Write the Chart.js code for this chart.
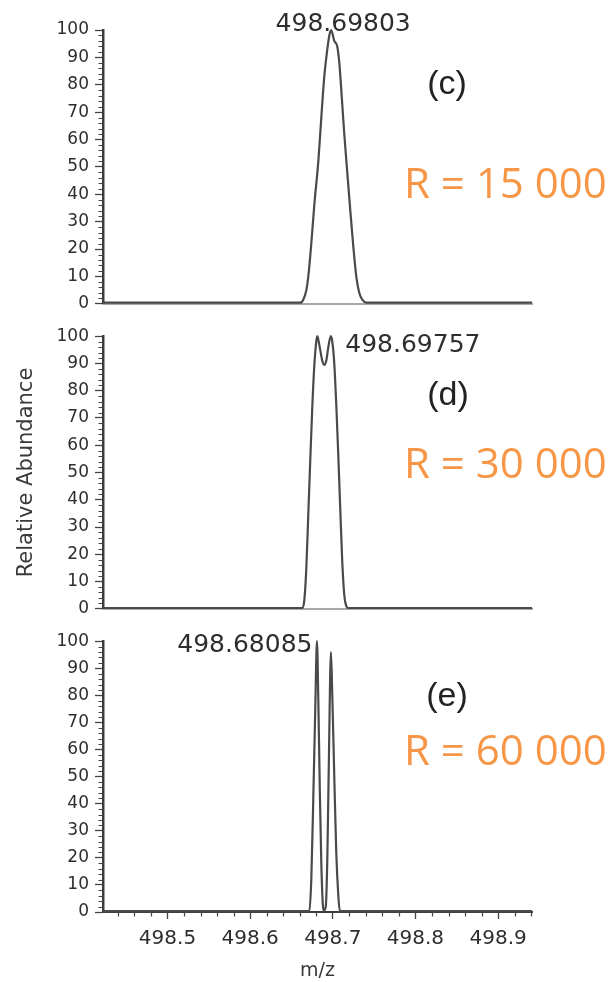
<!DOCTYPE html>
<html>
<head>
<meta charset="utf-8">
<script src="https://cdn.jsdelivr.net/npm/chart.js@4/dist/chart.umd.min.js"></script>
<style>
  html, body { margin: 0; padding: 0; background: #fff; }
  body { width: 616px; height: 982px; position: relative; overflow: hidden; }
  canvas { position: absolute; left: 0; }
</style>
</head>
<body>
<canvas id="panelC" width="616" height="320" style="top:0px"></canvas>
<canvas id="panelD" width="616" height="305" style="top:320px"></canvas>
<canvas id="panelE" width="616" height="357" style="top:625px"></canvas>
<script>
// Shared m/z window and tick values
const mzRange = [498.422, 498.941];
const mzTickLabels = [498.5, 498.6, 498.7, 498.8, 498.9];
const abundanceTicks = [0, 10, 20, 30, 40, 50, 60, 70, 80, 90, 100];

// (c) R = 15 000 : single unresolved peak
const mzC = [498.422, 498.6607, 498.6643, 498.6680, 498.6704, 498.6740, 498.6776, 498.6825,
  498.6861, 498.6897, 498.6934, 498.6958, 498.69803, 498.7018, 498.7054, 498.7079, 498.7103,
  498.7139, 498.7175, 498.7212, 498.7248, 498.7284, 498.7320, 498.7357, 498.7405, 498.941];
const abundanceC = [0.4, 0.4, 1.5, 5, 10, 22, 36, 52,
  68, 83, 93, 98, 100, 96, 94, 88, 78,
  62, 48, 34, 21, 10, 4, 1.5, 0.4, 0.4];

// (d) R = 30 000 : two partly resolved peaks
const mzD = [498.422, 498.6631, 498.6655, 498.6680, 498.6704, 498.6728, 498.6752, 498.6776,
  498.6800, 498.6812, 498.6836, 498.6873, 498.6897, 498.6921, 498.6946, 498.69757, 498.6994,
  498.7018, 498.7042, 498.7067, 498.7091, 498.7115, 498.7139, 498.7163, 498.7187, 498.941];
const abundanceD = [0.3, 0.3, 3, 15, 35, 55, 74, 89,
  98, 100, 97, 91, 89.5, 91, 96, 100, 98,
  90, 75, 56, 36, 17, 5, 1, 0.3, 0.3];

// (e) R = 60 000 : two baseline-resolved peaks
const mzE = [498.422, 498.6716, 498.6740, 498.6764, 498.6788, 498.68085, 498.6825, 498.6843,
  498.6861, 498.6879, 498.6891, 498.6915, 498.6934, 498.6952, 498.6978, 498.6994, 498.7018,
  498.7042, 498.7067, 498.7085, 498.941];
const abundanceE = [0.3, 0.3, 12, 42, 75, 100, 78, 45,
  18, 3, 0.5, 2, 20, 55, 96, 80, 50,
  22, 6, 0.3, 0.3];

// Peak apex labels
const apexC = 498.69803;
const apexD = 498.69757;
const apexE = 498.68085;

const INK = '#2e2e2e';
const TRACE = '#4a4a4a';
const ORANGE = '#F79646';

// Short minor ticks on both axes, placed through the chart scales
const minorTicks = {
  id: 'minorTicks',
  afterDatasetsDraw(chart, args, opts) {
    const { ctx } = chart;
    const y = chart.scales.y, x = chart.scales.x;
    ctx.save();
    ctx.strokeStyle = '#444';
    ctx.lineWidth = 1.2;
    ctx.beginPath();
    for (let v = 2; v < 100; v += 2) {
      if (v % 10 === 0) continue;
      const py = Math.round(y.getPixelForValue(v)) + 0.5;
      ctx.moveTo(y.right - 4.5, py);
      ctx.lineTo(y.right, py);
    }
    if (opts.xMinor) {
      for (let k = 49844; k <= 49894; k += 2) {
        if (k % 10 === 0) continue;
        const px = Math.round(x.getPixelForValue(k / 100)) + 0.5;
        ctx.moveTo(px, x.top);
        ctx.lineTo(px, x.top + 4.5);
      }
    }
    ctx.stroke();
    ctx.restore();
  }
};

// Free text: peak labels, panel letters and resolving power
const notes = {
  id: 'notes',
  afterDraw(chart, args, opts) {
    const { ctx } = chart;
    const x = chart.scales.x;
    ctx.save();
    for (const n of opts.items || []) {
      const px = n.mz !== undefined ? x.getPixelForValue(n.mz) + (n.dx || 0) : n.x;
      ctx.font = n.font;
      ctx.fillStyle = n.color;
      ctx.textAlign = n.align || 'left';
      ctx.textBaseline = 'alphabetic';
      ctx.fillText(n.text, px, n.y);
    }
    ctx.restore();
  }
};

function series(mz, ab) {
  return mz.map((m, i) => ({ x: m, y: ab[i] }));
}

function makePanel(id, cfg) {
  const showX = cfg.showXAxis;
  return new Chart(document.getElementById(id), {
    type: 'line',
    data: {
      datasets: [{
        data: series(cfg.mz, cfg.ab),
        borderColor: TRACE,
        borderWidth: 2.2,
        pointRadius: 0,
        cubicInterpolationMode: 'monotone',
        clip: 6
      }]
    },
    options: {
      responsive: false,
      animation: false,
      events: [],
      layout: { padding: { top: cfg.top, right: 84, left: 0, bottom: 0 } },
      plugins: {
        legend: { display: false },
        tooltip: { enabled: false },
        notes: { items: cfg.notes },
        minorTicks: { xMinor: showX }
      },
      scales: {
        x: {
          type: 'linear',
          min: mzRange[0],
          max: mzRange[1],
          afterBuildTicks: s => { s.ticks = mzTickLabels.map(v => ({ value: v })); },
          afterFit: s => { s.height = cfg.xHeight; },
          border: { display: true, color: showX ? '#3c3c3c' : '#a8a8a8', width: 2 },
          grid: {
            drawOnChartArea: false,
            drawTicks: showX,
            tickLength: 7,
            tickColor: '#444',
            tickWidth: 1.3
          },
          ticks: {
            display: showX,
            padding: 8,
            color: INK,
            font: { family: 'DejaVu Sans', size: 20 },
            callback: v => Number(v).toFixed(1)
          },
          title: {
            display: showX,
            text: 'm/z',
            color: '#3a3a3a',
            font: { family: 'DejaVu Sans', size: 19 },
            padding: { top: 0, bottom: 0 }
          }
        },
        y: {
          type: 'linear',
          min: 0,
          max: 100,
          afterBuildTicks: s => { s.ticks = abundanceTicks.map(v => ({ value: v })); },
          afterFit: s => { s.width = 103; },
          border: { display: true, color: '#3c3c3c', width: 2.5 },
          grid: {
            drawOnChartArea: false,
            drawTicks: true,
            tickLength: 8,
            tickColor: '#444',
            tickWidth: 1.3
          },
          ticks: {
            padding: 6,
            color: INK,
            font: { family: 'DejaVu Sans', size: 17 }
          },
          title: {
            display: !!cfg.yTitle,
            text: 'Relative Abundance',
            color: '#3a3a3a',
            font: { family: 'DejaVu Sans', size: 21 },
            padding: { top: 14, bottom: 0 }
          }
        }
      }
    },
    plugins: [minorTicks, notes]
  });
}

const peakFont = '25px "DejaVu Sans"';
const letterFont = '34px "Liberation Sans"';
const rFont = '42px "Open Sans"';

makePanel('panelC', {
  mz: mzC, ab: abundanceC, top: 30, xHeight: 15, showXAxis: false,
  notes: [
    { text: String(apexC), mz: apexC, dx: 12, y: 31, font: peakFont, color: INK, align: 'center' },
    { text: '(c)', x: 447, y: 94, font: letterFont, color: '#222', align: 'center' },
    { text: 'R = 15 000', x: 404, y: 198, font: rFont, color: ORANGE }
  ]
});

makePanel('panelD', {
  mz: mzD, ab: abundanceD, top: 15, xHeight: 16, showXAxis: false, yTitle: true,
  notes: [
    { text: String(apexD), mz: apexD, dx: 14.5, y: 32, font: peakFont, color: INK },
    { text: '(d)', x: 448, y: 85, font: letterFont, color: '#222', align: 'center' },
    { text: 'R = 30 000', x: 404, y: 158, font: rFont, color: ORANGE }
  ]
});

makePanel('panelE', {
  mz: mzE, ab: abundanceE, top: 15, xHeight: 70, showXAxis: true,
  notes: [
    { text: String(apexE), mz: apexE, dx: -4.5, y: 27, font: peakFont, color: INK, align: 'right' },
    { text: '(e)', x: 447, y: 81, font: letterFont, color: '#222', align: 'center' },
    { text: 'R = 60 000', x: 404, y: 140, font: rFont, color: ORANGE }
  ]
});
</script>
</body>
</html>
